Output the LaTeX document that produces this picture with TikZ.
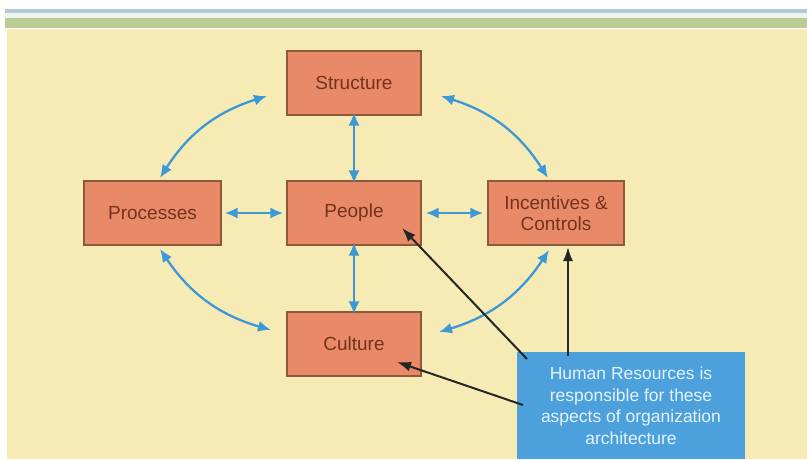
\documentclass[tikz,border=0pt]{standalone}
\usepackage{fontspec}
\setmainfont{Liberation Sans}
\usetikzlibrary{arrows.meta}
\definecolor{bgyellow}{HTML}{F7EBB5}
\definecolor{boxfill}{HTML}{E88A67}
\definecolor{boxline}{HTML}{8A5A3A}
\definecolor{boxtext}{HTML}{74321F}
\definecolor{arrblue}{HTML}{3D98D6}
\definecolor{hrblue}{HTML}{4CA0DC}
\definecolor{hrtext}{HTML}{E6F3FF}
\definecolor{bandblue}{HTML}{B3C9DB}
\definecolor{bandgreen}{HTML}{BACB95}
\definecolor{bandlight}{HTML}{EEF5EA}
\tikzset{
  orgbox/.style={draw=boxline, line width=1.3pt, fill=boxfill, minimum width=134pt, minimum height=64pt,
    inner sep=0pt, text=boxtext, align=center, font=\fontsize{19}{21}\selectfont},
  hrbox/.style={fill=hrblue, minimum width=228pt, minimum height=107pt, inner sep=0pt,
    text=hrtext, align=center, font=\fontsize{17.5}{21.5}\selectfont},
  blu/.style={draw=arrblue, line width=2.3pt, {Latex[length=13pt,width=11pt]}-{Latex[length=13pt,width=11pt]}},
  blk/.style={draw=black!85, line width=2pt, -{Latex[length=14pt,width=10pt]}}
}
\begin{document}
\begin{tikzpicture}[x=1pt,y=-1pt]
\useasboundingbox (0,0) rectangle (807,460);
\fill[white] (0,0) rectangle (807,460);
% top bands
\fill[bandblue] (5,9) rectangle (807,13);
\fill[bandlight] (5,13) rectangle (807,18);
\fill[bandgreen] (5,18) rectangle (807,28);
\fill[bgyellow] (7,29) rectangle (807,459);

% boxes
\node[orgbox] (s) at (354,83) {Structure};
\node[orgbox, minimum width=137pt] (pr) at (152.5,213) {Processes};
\node[orgbox] (pe) at (354,213) {People};
\node[orgbox, minimum width=136pt] (ic) at (556,213) {Incentives \&\\Controls};
\node[orgbox] (cu) at (354,344) {Culture};
\node[hrbox] (hr) at (631,405.5) {Human Resources is\\responsible for these\\aspects of organization\\architecture};

% straight blue arrows
\draw[blu] ([yshift=3pt]s.south) -- ([yshift=-3pt]pe.north);
\draw[blu] ([yshift=3pt]pe.south) -- ([yshift=-3pt]cu.north);
\draw[blu] ([xshift=3pt]pr.east) -- ([xshift=-3pt]pe.west);
\draw[blu] ([xshift=4pt]pe.east) -- ([xshift=-4pt]ic.west);

% curved blue arrows
\coordinate (sl) at (267,96);
\coordinate (sr) at (441,96);
\coordinate (prt) at (160,178);
\coordinate (prb) at (160,249);
\coordinate (ict) at (548,178);
\coordinate (icb) at (549,250);
\coordinate (cul) at (271,330);
\coordinate (cur) at (439,332);
\draw[blu] (sl) to[bend right=20] (prt);
\draw[blu] (sr) to[bend left=20] (ict);
\draw[blu] (prb) to[bend right=20] (cul);
\draw[blu] (icb) to[bend left=20] (cur);

% black arrows
\coordinate (h1) at (527,359);
\coordinate (h2) at (568,356);
\coordinate (h3) at (523,405);
\coordinate (pet) at (402,228);
\coordinate (ict2) at (568,247);
\coordinate (cut) at (397,362);
\draw[blk] (h1) -- (pet);
\draw[blk] (h2) -- (ict2);
\draw[blk] (h3) -- (cut);
\end{tikzpicture}
\end{document}
